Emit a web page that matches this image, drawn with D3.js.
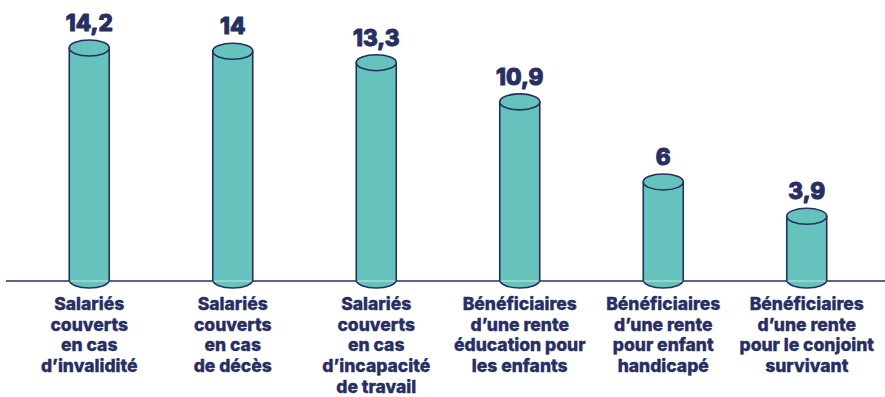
<!DOCTYPE html>
<html>
<head>
<meta charset="utf-8">
<script src="https://cdn.jsdelivr.net/npm/d3@7/dist/d3.min.js"></script>
<style>
  html, body { margin: 0; padding: 0; background: #ffffff; }
  svg { display: block; }
  text { font-family: Inter, Roboto, "Noto Sans", sans-serif; font-weight: 800; fill: #272f62; }
  text.val { stroke: #272f62; stroke-width: 1; stroke-linejoin: round; }
  text.cat { stroke: #272f62; stroke-width: 0.35; stroke-linejoin: round; }
</style>
</head>
<body>
<svg id="chart" width="885" height="397"></svg>
<script>
// Categories (each entry is a list of label lines)
const categories = [
  ["Salariés", "couverts", "en cas", "d’invalidité"],
  ["Salariés", "couverts", "en cas", "de décès"],
  ["Salariés", "couverts", "en cas", "d’incapacité", "de travail"],
  ["Bénéficiaires", "d’une rente", "éducation pour", "les enfants"],
  ["Bénéficiaires", "d’une rente", "pour enfant", "handicapé"],
  ["Bénéficiaires", "d’une rente", "pour le conjoint", "survivant"]
];
const values = [14.2, 14, 13.3, 10.9, 6, 3.9];
const valueLabels = ["14,2", "14", "13,3", "10,9", "6", "3,9"];

const W = 885, H = 397;
const baseY = 280;
const navy = "#272f62";
const teal = "#66c2bd";
const rx = 20, ry = 8;

const svg = d3.select("#chart");

const x = d3.scaleBand()
  .domain(d3.range(categories.length))
  .range([17.5, 878.5]);

const y = d3.scaleLinear()
  .domain([0, 14.2])
  .range([baseY, 48]);

// Baseline
svg.append("line")
  .attr("x1", 6).attr("x2", W)
  .attr("y1", baseY + 1).attr("y2", baseY + 1)
  .attr("stroke", navy).attr("stroke-width", 1.6);

const g = svg.selectAll("g.cyl")
  .data(values)
  .join("g")
  .attr("class", "cyl")
  .attr("transform", (d, i) => `translate(${x(i) + x.bandwidth() / 2},0)`);

// Cylinder body with rounded bottom
g.append("path")
  .attr("d", d => {
    const top = y(d);
    return `M${-rx},${top} L${-rx},${baseY} A${rx},${ry} 0 0 0 ${rx},${baseY} L${rx},${top} Z`;
  })
  .attr("fill", teal)
  .attr("stroke", navy)
  .attr("stroke-width", 1.6);

// Light trace of the baseline across each cylinder
g.append("line")
  .attr("x1", -rx + 1).attr("x2", rx - 1)
  .attr("y1", baseY + 1).attr("y2", baseY + 1)
  .attr("stroke", "#c4e7e4").attr("stroke-width", 1.2);

// Top face
g.append("ellipse")
  .attr("cx", 0).attr("cy", d => y(d))
  .attr("rx", rx).attr("ry", ry)
  .attr("fill", teal)
  .attr("stroke", navy)
  .attr("stroke-width", 1.6);

// Value labels
g.append("text")
  .attr("class", "val")
  .attr("text-anchor", "middle")
  .attr("y", d => y(d) - ry - 9)
  .attr("font-size", 22.5)
  .text((d, i) => valueLabels[i]);

// Category labels
const cat = svg.selectAll("text.cat")
  .data(categories)
  .join("text")
  .attr("class", "cat")
  .attr("text-anchor", "middle")
  .attr("font-size", 17.5)
  .attr("x", (d, i) => x(i) + x.bandwidth() / 2)
  .attr("y", 310);

cat.selectAll("tspan")
  .data(d => d)
  .join("tspan")
  .attr("x", function() { return d3.select(this.parentNode).attr("x"); })
  .attr("dy", (d, i) => i === 0 ? 0 : 20.7)
  .text(d => d);
</script>
</body>
</html>
